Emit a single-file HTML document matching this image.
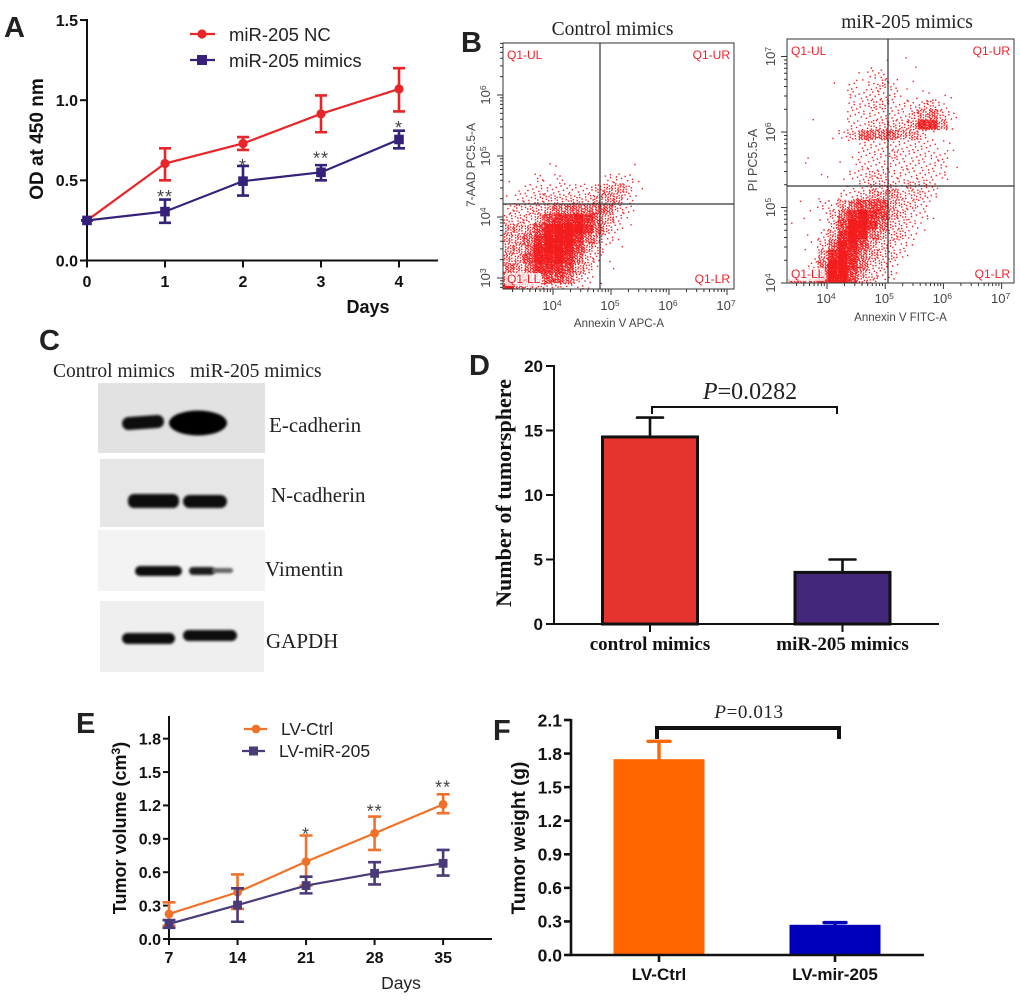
<!DOCTYPE html>
<html lang="en">
<head>
<meta charset="utf-8">
<title>miR-205 figure</title>
<style>
html,body{margin:0;padding:0;background:#fff;}
svg{display:block;}
text{font-family:"Liberation Sans",sans-serif;}
.serif{font-family:"Liberation Serif",serif;}
.letter{font-size:29px;font-weight:bold;fill:#222;}
.flow-red{font-size:12px;fill:#f0202a;}
.flow-axis{font-size:11.5px;fill:#444;}
</style>
</head>
<body>
<svg id="figure" xmlns="http://www.w3.org/2000/svg" width="1020" height="1000" viewBox="0 0 1020 1000">
<defs>
<filter id="soft" x="-20%" y="-60%" width="140%" height="220%"><feGaussianBlur stdDeviation="1.4"/></filter>
<filter id="dot-soft" x="-2%" y="-2%" width="104%" height="104%"><feGaussianBlur stdDeviation="0.35"/></filter>
<clipPath id="clip-control"><rect x="503" y="43" width="231" height="246"/></clipPath>
<clipPath id="clip-mir"><rect x="787" y="39" width="227" height="244"/></clipPath>
</defs>

<g id="panel-a">
<text class="letter" x="4" y="37">A</text>
<text x="0" y="0" transform="translate(43 139) rotate(-90)" text-anchor="middle" font-size="19" font-weight="bold" fill="#111">OD at 450 nm</text>
<text x="368" y="313" text-anchor="middle" font-size="18" font-weight="bold" fill="#111">Days</text>
<g>
<line x1="190" y1="34" x2="215" y2="34" stroke="#e8262a" stroke-width="2.2"/>
<circle cx="202" cy="34" r="4.6" fill="#e8262a"/>
<text x="229" y="41" font-size="18.5" fill="#222">miR-205 NC</text>
</g>
<g>
<line x1="190" y1="60" x2="215" y2="60" stroke="#35207a" stroke-width="2.2"/>
<rect x="197" y="55" width="10" height="10" fill="#35207a"/>
<text x="229" y="67" font-size="18.5" fill="#222">miR-205 mimics</text>
</g>
</g>

<g id="panel-b">
<text class="letter" x="461" y="52">B</text>
<text class="serif" x="612.5" y="35" text-anchor="middle" font-size="19.5" fill="#222">Control mimics</text>
<text class="serif" x="907" y="28" text-anchor="middle" font-size="19.5" fill="#222">miR-205 mimics</text>
<text class="flow-axis" x="619" y="327" text-anchor="middle">Annexin V APC-A</text>
<text class="flow-axis" x="900.5" y="321" text-anchor="middle">Annexin V FITC-A</text>
<text class="flow-axis" transform="translate(475 165) rotate(-90)" text-anchor="middle" style="font-size:12px">7-AAD PC5.5-A</text>
<text class="flow-axis" transform="translate(757 160) rotate(-90)" text-anchor="middle" style="font-size:12.5px">PI PC5.5-A</text>
<g id="flow-control"></g>
<g id="flow-mir"></g>
</g>

<g id="panel-c">
<text class="letter" x="39" y="350">C</text>
<text class="serif" x="53" y="377" font-size="19.5" fill="#222">Control mimics</text>
<text class="serif" x="190" y="377" font-size="19.5" fill="#222">miR-205 mimics</text>
<g>
<rect x="98" y="383" width="167" height="70" fill="#e2e2e2"/>
<rect x="122" y="416" width="42" height="13" rx="6.5" fill="#0c0c0c" filter="url(#soft)" transform="rotate(-4 143 422)"/>
<ellipse cx="198" cy="423" rx="29" ry="12.5" fill="#050505" filter="url(#soft)"/>
</g>
<text class="serif" x="269" y="432" font-size="21" fill="#222">E-cadherin</text>
<g>
<rect x="100" y="459" width="164" height="68" fill="#e6e6e6"/>
<rect x="128" y="494" width="51" height="14" rx="6" fill="#090909" filter="url(#soft)"/>
<rect x="183" y="495" width="44" height="13" rx="6.5" fill="#0c0c0c" filter="url(#soft)"/>
</g>
<text class="serif" x="271" y="502" font-size="21" fill="#222">N-cadherin</text>
<g>
<rect x="98" y="530" width="167" height="61" fill="#f3f3f3"/>
<rect x="135" y="566" width="47" height="10" rx="5" fill="#111" filter="url(#soft)"/>
<rect x="189" y="567" width="26" height="8" rx="4" fill="#1c1c1c" filter="url(#soft)"/>
<rect x="212" y="568" width="21" height="5" rx="2.5" fill="#666" filter="url(#soft)"/>
</g>
<text class="serif" x="265" y="576" font-size="21" fill="#222">Vimentin</text>
<g>
<rect x="100" y="601" width="164" height="71" fill="#efefef"/>
<rect x="122" y="633" width="53" height="11" rx="5.5" fill="#0a0a0a" filter="url(#soft)"/>
<rect x="183" y="630" width="54" height="11" rx="5.5" fill="#0a0a0a" filter="url(#soft)"/>
</g>
<text class="serif" x="266" y="648" font-size="21" fill="#222">GAPDH</text>
</g>

<g id="panel-d">
<text class="letter" x="469" y="375">D</text>
<text class="serif" transform="translate(511 493) rotate(-90)" text-anchor="middle" font-size="22" font-weight="bold" fill="#111">Number of tumorsphere</text>
<path d="M652 414V407H837V414" fill="none" stroke="#111" stroke-width="2"/>
<text class="serif" x="750" y="399" text-anchor="middle" font-size="24" fill="#222"><tspan font-style="italic">P</tspan>=0.0282</text>
</g>

<g id="panel-e">
<text class="letter" x="76" y="733">E</text>
<text transform="translate(126 828) rotate(-90)" text-anchor="middle" font-size="18" font-weight="bold" fill="#111">Tumor volume (cm<tspan font-size="12" dy="-6">3</tspan><tspan dy="6">)</tspan></text>
<text x="401" y="989" text-anchor="middle" font-size="17.5" fill="#222">Days</text>
<g>
<line x1="244" y1="729" x2="267" y2="729" stroke="#f0722a" stroke-width="2.2"/>
<circle cx="256" cy="729" r="4.4" fill="#f0722a"/>
<text x="281" y="735" font-size="17.5" fill="#222">LV-Ctrl</text>
</g>
<g>
<line x1="242" y1="751" x2="265" y2="751" stroke="#4b3a78" stroke-width="2.2"/>
<rect x="249" y="746.5" width="9" height="9" fill="#4b3a78"/>
<text x="279" y="757" font-size="17.5" fill="#222">LV-miR-205</text>
</g>
</g>

<g id="panel-f">
<text class="letter" x="493" y="740">F</text>
<text transform="translate(525 838) rotate(-90)" text-anchor="middle" font-size="19" font-weight="bold" fill="#111">Tumor weight (g)</text>
<path d="M657 739V728H839V739" fill="none" stroke="#111" stroke-width="4"/>
<text class="serif" x="749" y="718" text-anchor="middle" font-size="19" letter-spacing="0.6" fill="#222"><tspan font-style="italic">P</tspan>=0.013</text>
</g>
</svg>

<script>
/* Panel A values */
const panelADays = [0, 1, 2, 3, 4];
const panelAYTicks = [0, 0.5, 1, 1.5];
const panelAYLabels = ['0.0', '0.5', '1.0', '1.5'];
const panelANc = [0.25, 0.605, 0.73, 0.915, 1.07];
const panelANcLow = [0.25, 0.5, 0.69, 0.8, 0.93];
const panelANcHigh = [0.25, 0.7, 0.77, 1.03, 1.2];
const panelAMimics = [0.25, 0.305, 0.495, 0.55, 0.755];
const panelAMimicsLow = [0.25, 0.235, 0.405, 0.5, 0.7];
const panelAMimicsHigh = [0.25, 0.38, 0.59, 0.595, 0.81];
const panelAStarDays = [1, 2, 3, 4];
const panelAStarText = ['**', '*', '**', '*'];
const panelAStarLevels = [0.42, 0.615, 0.66, 0.85];

/* Panel D values */
const panelDCategories = ['control mimics', 'miR-205 mimics'];
const panelDValues = [14.5, 4];
const panelDErrors = [16, 5];
const panelDYTicks = [0, 5, 10, 15, 20];

/* Panel E values */
const panelEDays = [7, 14, 21, 28, 35];
const panelEYTicks = [0, 0.3, 0.6, 0.9, 1.2, 1.5, 1.8];
const panelEYLabels = ['0.0', '0.3', '0.6', '0.9', '1.2', '1.5', '1.8'];
const panelECtrl = [0.225, 0.42, 0.695, 0.95, 1.21];
const panelECtrlLow = [0.12, 0.27, 0.48, 0.8, 1.13];
const panelECtrlHigh = [0.33, 0.58, 0.93, 1.1, 1.3];
const panelEMir = [0.135, 0.305, 0.48, 0.59, 0.68];
const panelEMirLow = [0.1, 0.155, 0.41, 0.49, 0.57];
const panelEMirHigh = [0.17, 0.455, 0.56, 0.69, 0.8];
const panelEStarDays = [21, 28, 35];
const panelEStarText = ['*', '**', '**'];
const panelEStarLevels = [0.975, 1.18, 1.395];

/* Panel F values */
const panelFCategories = ['LV-Ctrl', 'LV-mir-205'];
const panelFValues = [1.75, 0.27];
const panelFErrors = [1.91, 0.29];
const panelFYTicks = [0, 0.3, 0.6, 0.9, 1.2, 1.5, 1.8, 2.1];
const panelFYLabels = ['0.0', '0.3', '0.6', '0.9', '1.2', '1.5', '1.8', '2.1'];

/* Panel B: event density read per grid cell, digit 0 (none) to 9 (solid), top row first */
const controlDensity = [
  '',
  '',
  '',
  '',
  '',
  '',
  '',
  '',
  '',
  '',
  '',
  '',
  '00001100000001',
  '10021200002221',
  '01222222234431',
  '12233333344421',
  '2333455555532',
  '3334677875421',
  '4446899975321',
  '445799975421',
  '445899864311',
  '44688975321',
  '54577764311',
  '4444665321',
  '954333221'
];
const mirDensity = [
  '',
  '00000000000100',
  '000000001100100',
  '00000001221',
  '0000102123211',
  '00000022222111111',
  '0000002233222332',
  '00100022222234532',
  '00000022333347741',
  '000012355554431',
  '00000012222222211',
  '00100012223222221',
  '01000112222222221',
  '0001112233222222',
  '000001123332332',
  '000102234443332',
  '010224566643321',
  '011135797643221',
  '10013699753321',
  '00124798543321',
  '0113588643321',
  '001479754332',
  '00259975332',
  '00259964322',
  '55579964310'
];
const controlXExponents = [4, 5, 6, 7];
const controlYExponents = [3, 4, 5, 6];
const mirXExponents = [4, 5, 6, 7];
const mirYExponents = [4, 5, 6, 7];

const NS = 'http://www.w3.org/2000/svg';
function make(tag, attrs, parent, content) {
  const node = document.createElementNS(NS, tag);
  for (const key in attrs) node.setAttribute(key, attrs[key]);
  if (content !== undefined) node.textContent = content;
  parent.appendChild(node);
  return node;
}

function drawAxes(g, xTicks, xLabels, yTicks, yLabels, x, y, o) {
  const yAxis = make('line', {x1: o.x0, y1: o.yTop, x2: o.x0, y2: o.y0, stroke: '#111', 'stroke-width': o.sw}, g);
  
  
  const xAxis = make('line', {x1: o.x0 - 1, y1: o.y0, x2: o.xEnd, y2: o.y0, stroke: '#111', 'stroke-width': o.sw}, g);
  
  
  yTicks.forEach(function (v, i) {
    const tick = make('line', {x1: o.x0 - o.tick, y1: y(v), x2: o.x0, y2: y(v), stroke: '#111', 'stroke-width': o.sw}, g);
    
    
    const label = make('text', {x: o.yLabelX, y: y(v) + o.fs * 0.36, 'text-anchor': 'end', 'font-size': o.fs, 'font-weight': 'bold', fill: '#111'}, g, yLabels[i]);
    
    
  });
  xTicks.forEach(function (v, i) {
    const tick = make('line', {x1: x(v), y1: o.y0, x2: x(v), y2: o.y0 + o.tick, stroke: '#111', 'stroke-width': o.sw}, g);
    
    
    const label = make('text', {x: x(v), y: o.xLabelY, 'text-anchor': 'middle', 'font-size': o.xfs || o.fs, 'font-weight': 'bold', fill: '#111'}, g, xLabels[i]);
    if (o.xSerif) label.setAttribute('class', 'serif');
    
    
  });
}

function drawSeries(g, name, xs, vals, lows, highs, x, y, color, square, o) {
  const series = make('g', {}, g);
  
  
  const line = make('polyline', {points: xs.map(function (v, i) { return x(v) + ',' + y(vals[i]); }).join(' '), fill: 'none', stroke: color, 'stroke-width': o.lw}, series);
  
  
  xs.forEach(function (v, i) {
    const bar = make('path', {
      d: 'M' + (x(v) - o.cap) + ' ' + y(highs[i]) + 'H' + (x(v) + o.cap) + 'M' + x(v) + ' ' + y(highs[i]) + 'V' + y(lows[i]) + 'M' + (x(v) - o.cap) + ' ' + y(lows[i]) + 'H' + (x(v) + o.cap),
      fill: 'none', stroke: color, 'stroke-width': o.ew
    }, series);
    
    
    let marker;
    if (square) {
      marker = make('rect', {x: x(v) - o.size, y: y(vals[i]) - o.size, width: o.size * 2, height: o.size * 2, fill: color}, series);
    } else {
      marker = make('circle', {cx: x(v), cy: y(vals[i]), r: o.size, fill: color}, series);
    }
    
    
  });
}

function drawStars(g, xs, labels, levels, x, y) {
  xs.forEach(function (v, i) {
    const star = make('text', {x: x(v), y: y(levels[i]) + 10, 'text-anchor': 'middle', 'font-size': 18, 'letter-spacing': 1, fill: '#444'}, g, labels[i]);
    
    
  });
}

function drawBars(g, name, values, errors, x, y, y0, o) {
  values.forEach(function (v, i) {
    const err = make('path', {
      d: 'M' + x(i) + ' ' + y(v) + 'V' + y(errors[i]) + 'M' + (x(i) - o.cap) + ' ' + y(errors[i]) + 'H' + (x(i) + o.cap),
      fill: 'none', stroke: o.errColors[i], 'stroke-width': o.ew, 'stroke-linecap': 'round'
    }, g);
    
    
    const bar = make('rect', {
      x: x(i) - o.width / 2, y: y(v), width: o.width, height: y0 - y(v),
      fill: o.fills[i], stroke: o.stroke, 'stroke-width': o.bsw
    }, g);
    
    
  });
}

/* Panel A */
const aX = function (v) { return 87 + v * 78; };
const aY = function (v) { return 260.5 - v * 160.3; };
const panelA = document.getElementById('panel-a');
drawAxes(panelA, panelADays, panelADays.map(String), panelAYTicks, panelAYLabels, aX, aY,
  {x0: 87, y0: 260.5, yTop: 19, xEnd: 438, tick: 7, sw: 2, fs: 16, yLabelX: 78, xLabelY: 287});
drawSeries(panelA, 'mir-205-nc', panelADays, panelANc, panelANcLow, panelANcHigh, aX, aY, '#e8262a', false, {lw: 2.2, ew: 2.6, cap: 6, size: 4.6});
drawSeries(panelA, 'mir-205-mimics', panelADays, panelAMimics, panelAMimicsLow, panelAMimicsHigh, aX, aY, '#35207a', true, {lw: 2.2, ew: 2.6, cap: 6, size: 4.8});
drawStars(panelA, panelAStarDays, panelAStarText, panelAStarLevels, aX, aY);

/* Panel D */
const dX = function (i) { return 650 + i * 192.5; };
const dY = function (v) { return 624 - v * 12.9; };
const panelD = document.getElementById('panel-d');
drawBars(panelD, 'tumorsphere', panelDValues, panelDErrors, dX, dY, 624,
  {width: 95, cap: 13, ew: 2.6, bsw: 3, fills: ['#e6332e', '#43277a'], stroke: '#111', errColors: ['#111', '#111']});
drawAxes(panelD, [0, 1], panelDCategories, panelDYTicks, panelDYTicks.map(String), dX, dY,
  {x0: 554, y0: 624, yTop: 365, xEnd: 939, tick: 8, sw: 2, fs: 17, yLabelX: 543, xLabelY: 650, xfs: 19, xSerif: true});

/* Panel E */
const eX = function (v) { return 169 + (v - 7) * 9.79; };
const eY = function (v) { return 939 - v * 111.3; };
const panelE = document.getElementById('panel-e');
drawAxes(panelE, panelEDays, panelEDays.map(String), panelEYTicks, panelEYLabels, eX, eY,
  {x0: 169, y0: 939, yTop: 716, xEnd: 492, tick: 6, sw: 2, fs: 16, yLabelX: 161, xLabelY: 963});
drawSeries(panelE, 'lv-ctrl', panelEDays, panelECtrl, panelECtrlLow, panelECtrlHigh, eX, eY, '#f0722a', false, {lw: 2.2, ew: 2.6, cap: 6.5, size: 4.4});
drawSeries(panelE, 'lv-mir-205', panelEDays, panelEMir, panelEMirLow, panelEMirHigh, eX, eY, '#4b3a78', true, {lw: 2.2, ew: 2.6, cap: 6.5, size: 4.4});
drawStars(panelE, panelEStarDays, panelEStarText, panelEStarLevels, eX, eY);

/* Panel F */
const fX = function (i) { return 659 + i * 176; };
const fY = function (v) { return 955 - v * 111.9; };
const panelF = document.getElementById('panel-f');
drawBars(panelF, 'tumor-weight', panelFValues, panelFErrors, fX, fY, 955,
  {width: 91, cap: 11, ew: 3.4, bsw: 0, fills: ['#ff6600', '#0000bb'], stroke: 'none', errColors: ['#ff6600', '#0000bb']});
drawAxes(panelF, [0, 1], panelFCategories, panelFYTicks, panelFYLabels, fX, fY,
  {x0: 571, y0: 955, yTop: 719, xEnd: 924, tick: 7, sw: 2.6, fs: 17.5, yLabelX: 562, xLabelY: 980, xfs: 17});

/* Panel B */
function drawDots(g, rows, left, top, clipId, name) {
  let d = '';
  const cell = 10;
  rows.forEach(function (row, r) {
    for (let c = 0; c < row.length; c++) {
      const level = Number(row[c]);
      const count = Math.round(level * level * 1.15);
      const sx = r * 0.37 + c * 0.61;
      const sy = r * 0.71 + c * 0.23;
      for (let k = 1; k <= count; k++) {
        const px = left + c * cell + cell * ((k * 0.7549 + sx) % 1);
        const py = top + r * cell + cell * ((k * 0.5698 + sy) % 1);
        d += 'M' + px.toFixed(1) + ' ' + py.toFixed(1) + 'h1.4v1.4h-1.4z';
      }
    }
  });
  const wrap = make('g', {'clip-path': 'url(#' + clipId + ')'}, g);
  
  
  const dots = make('path', {d: d, fill: '#f31a1f', filter: 'url(#dot-soft)'}, wrap);
  
  
}

function drawFlow(g, name, rows, p) {
  drawDots(g, rows, p.left, p.top, p.clip, name);
  const frame = make('rect', {x: p.left, y: p.top, width: p.right - p.left, height: p.bottom - p.top, fill: 'none', stroke: '#333', 'stroke-width': 1}, g);
  
  
  const gateV = make('line', {x1: p.gateX, y1: p.top, x2: p.gateX, y2: p.bottom, stroke: '#333', 'stroke-width': 1.2}, g);
  
  
  const gateH = make('line', {x1: p.left, y1: p.gateY, x2: p.right, y2: p.gateY, stroke: '#333', 'stroke-width': 1.2}, g);
  
  

  const minors = [2, 3, 4, 5, 6, 7, 8, 9];
  let tickPath = '';
  for (let e = 2; e <= 7; e++) {
    const xd = p.x(e);
    if (xd >= p.left - 0.5 && xd <= p.right + 0.5) tickPath += 'M' + xd + ' ' + p.bottom + 'v6';
    const yd = p.y(e);
    if (yd >= p.top - 0.5 && yd <= p.bottom + 0.5) tickPath += 'M' + p.left + ' ' + yd + 'h-6';
    minors.forEach(function (m) {
      const lm = Math.log10(m);
      const xm = p.x(e + lm);
      if (xm >= p.left && xm <= p.right) tickPath += 'M' + xm.toFixed(1) + ' ' + p.bottom + 'v3';
      const ym = p.y(e + lm);
      if (ym >= p.top && ym <= p.bottom) tickPath += 'M' + p.left + ' ' + ym.toFixed(1) + 'h-3';
    });
  }
  const ticks = make('path', {d: tickPath, fill: 'none', stroke: '#333', 'stroke-width': 1}, g);
  
  

  p.xExp.forEach(function (e) {
    const t = make('text', {x: p.x(e) - 1, y: p.xLabelY, 'text-anchor': 'middle', 'font-size': 13, fill: '#444'}, g, '10');
    const s = make('tspan', {dy: -4, 'font-size': 8.5}, t, String(e));
    
    
    
    
  });
  p.yExp.forEach(function (e) {
    const t = make('text', {transform: 'translate(' + p.yLabelX + ' ' + p.y(e) + ') rotate(-90)', 'text-anchor': 'middle', 'font-size': 13, fill: '#444'}, g, '10');
    const s = make('tspan', {dy: -4, 'font-size': 8.5}, t, String(e));
    
    
    
    
  });

  const pale = make('rect', {x: p.left + 2, y: p.llTop, width: 36, height: 13, fill: '#fff', 'fill-opacity': 0.72}, g);
  
  
  const quadLabels = [
    ['Q1-UL', p.left + 4, p.ulY, 'start'],
    ['Q1-UR', p.right - 4, p.ulY, 'end'],
    ['Q1-LL', p.left + 4, p.llY, 'start'],
    ['Q1-LR', p.right - 4, p.llY, 'end']
  ];
  quadLabels.forEach(function (q) {
    const label = make('text', {class: 'flow-red', x: q[1], y: q[2], 'text-anchor': q[3]}, g, q[0]);
    
    
  });
}

drawFlow(document.getElementById('flow-control'), 'control-flow', controlDensity, {
  left: 503, top: 43, right: 734, bottom: 289, gateX: 600, gateY: 204, clip: 'clip-control',
  x: function (e) { return 553 + (e - 4) * 58; },
  y: function (e) { return 217 - (e - 4) * 61; },
  xExp: controlXExponents, yExp: controlYExponents, xLabelY: 310, yLabelX: 490,
  ulY: 59, llY: 283, llTop: 273
});
drawFlow(document.getElementById('flow-mir'), 'mir-flow', mirDensity, {
  left: 787, top: 39, right: 1014, bottom: 283, gateX: 888, gateY: 186, clip: 'clip-mir',
  x: function (e) { return 827 + (e - 4) * 58.2; },
  y: function (e) { return 283 - (e - 4) * 75.5; },
  xExp: mirXExponents, yExp: mirYExponents, xLabelY: 303, yLabelX: 775,
  ulY: 55, llY: 278, llTop: 268
});
</script>
</body>
</html>
